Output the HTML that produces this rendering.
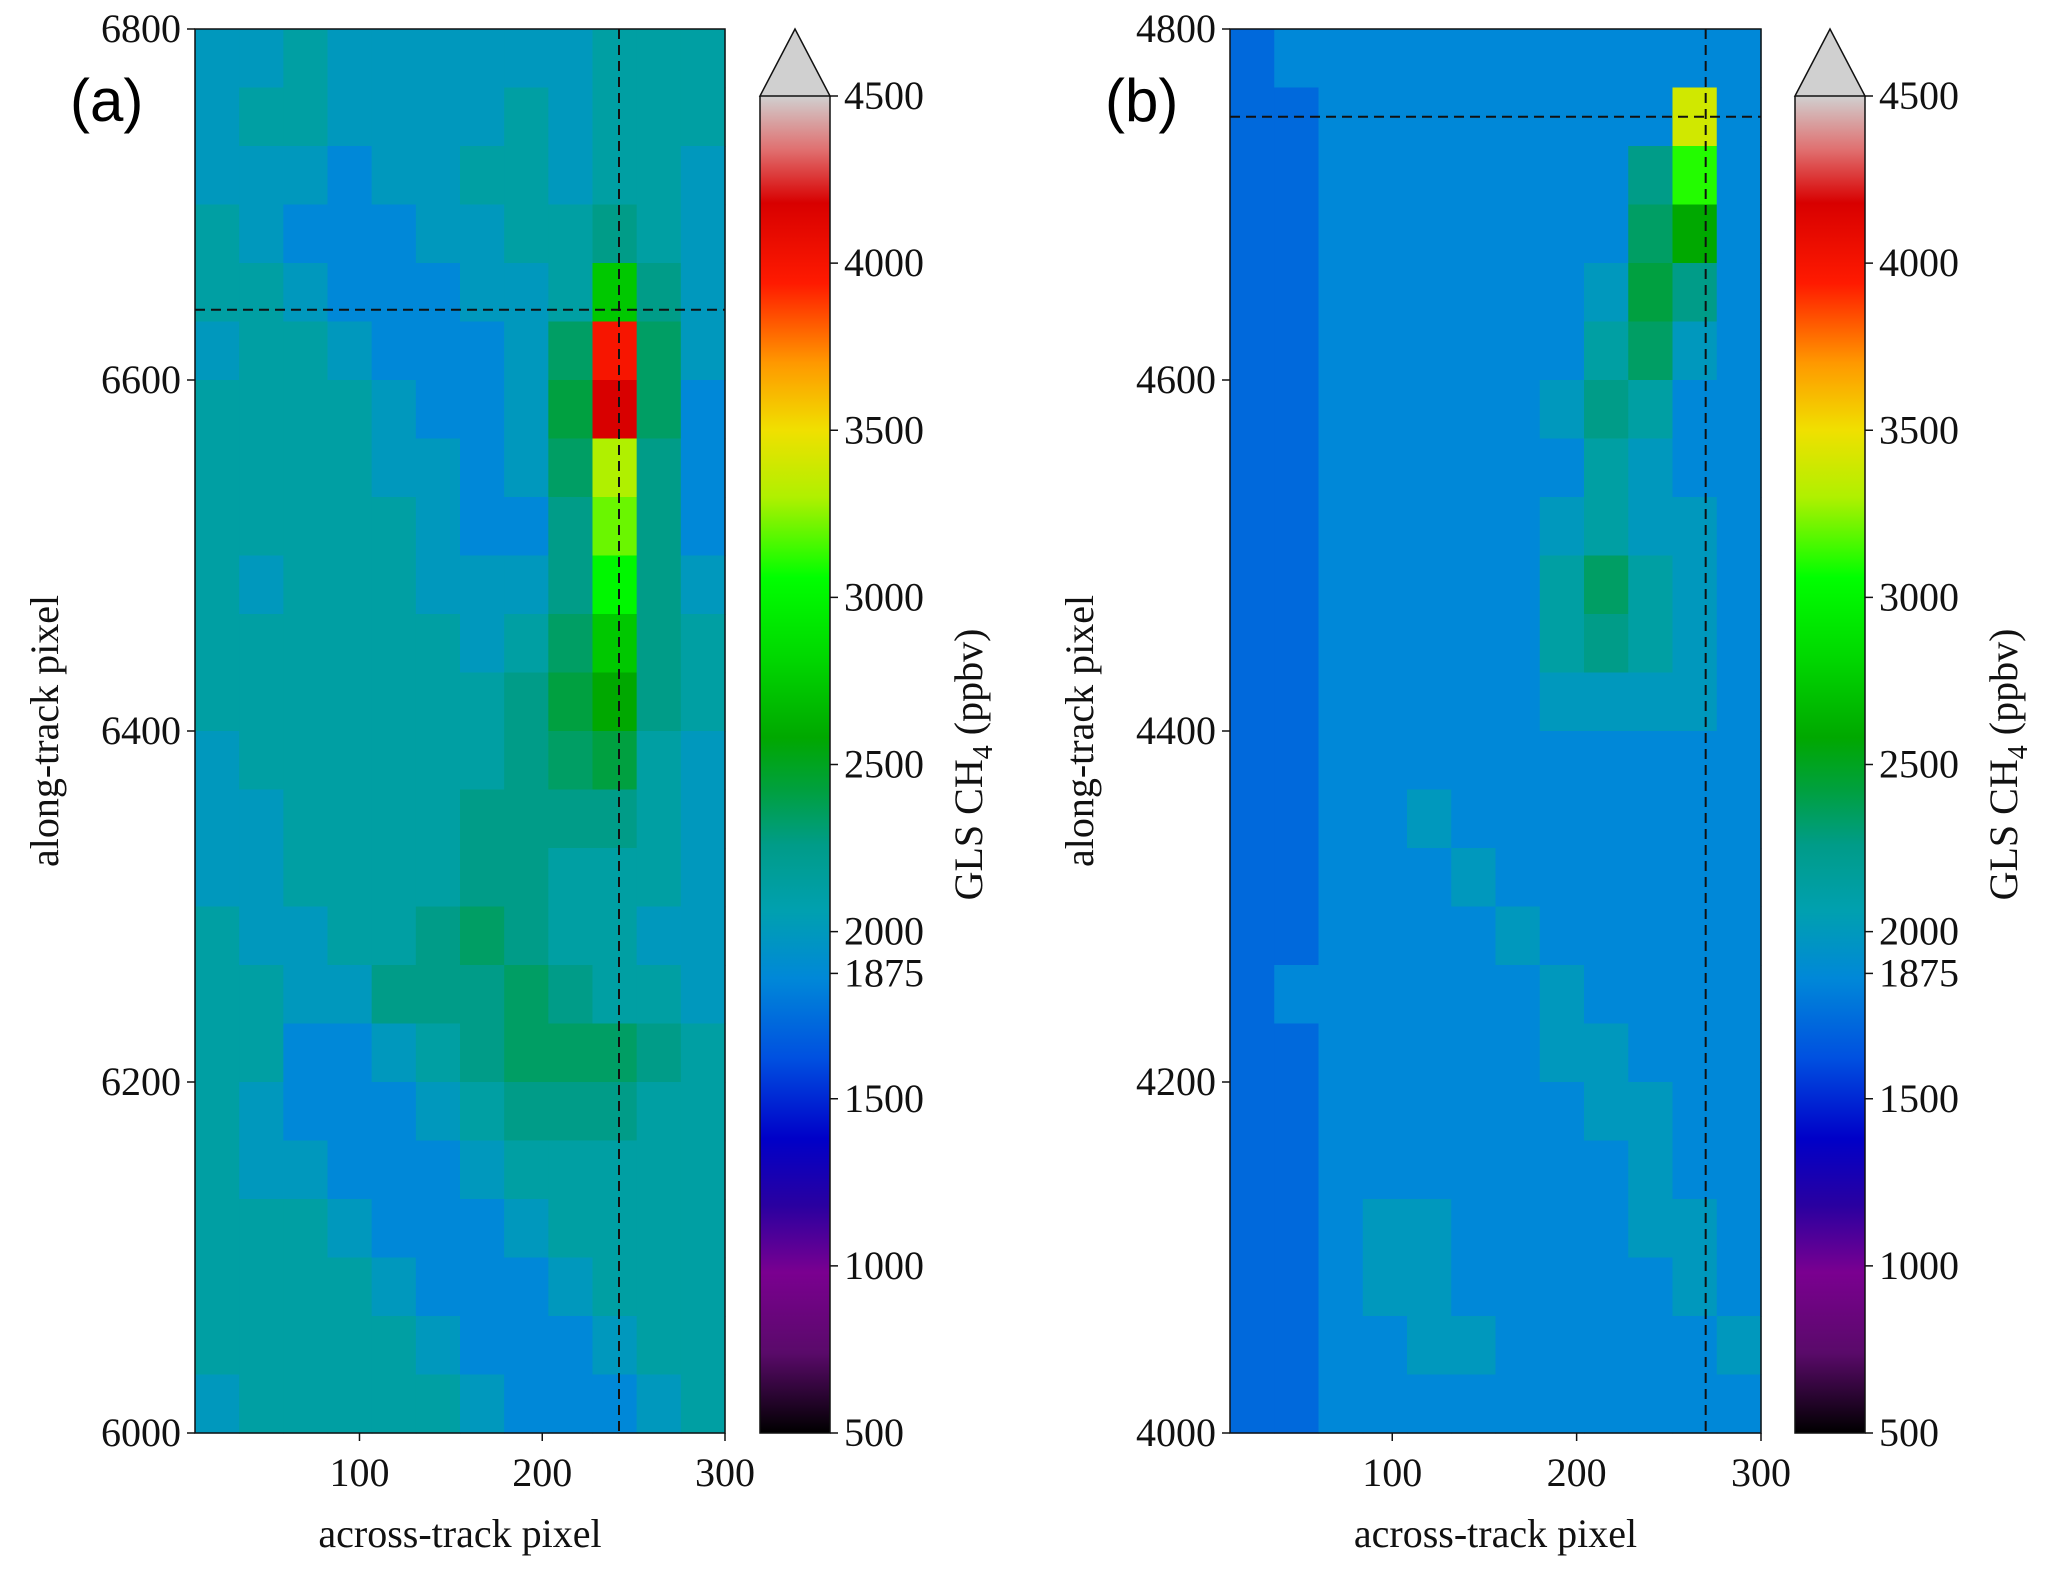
<!DOCTYPE html>
<html><head><meta charset="utf-8">
<style>
body{margin:0;background:#fff;}
svg{display:block;font-family:"Liberation Serif",serif;}
.t{font-size:40px;fill:#111;}
</style></head>
<body>
<svg id="fig" width="2067" height="1573" viewBox="0 0 2067 1573">
<defs>
<linearGradient id="cmap" x1="0" y1="1" x2="0" y2="0">
<stop offset="0" stop-color="#000000"/>
<stop offset="0.06" stop-color="#5a0a6a"/>
<stop offset="0.12" stop-color="#7a0090"/>
<stop offset="0.17" stop-color="#2a00a0"/>
<stop offset="0.22" stop-color="#0000c8"/>
<stop offset="0.28" stop-color="#0050e0"/>
<stop offset="0.34" stop-color="#0088d8"/>
<stop offset="0.39" stop-color="#00a0b0"/>
<stop offset="0.44" stop-color="#009c88"/>
<stop offset="0.48" stop-color="#00a040"/>
<stop offset="0.52" stop-color="#00a800"/>
<stop offset="0.58" stop-color="#00d800"/>
<stop offset="0.64" stop-color="#00ff00"/>
<stop offset="0.70" stop-color="#b0f000"/>
<stop offset="0.75" stop-color="#f0e000"/>
<stop offset="0.80" stop-color="#ff9900"/>
<stop offset="0.86" stop-color="#ff1a00"/>
<stop offset="0.92" stop-color="#d80000"/>
<stop offset="0.96" stop-color="#e07070"/>
<stop offset="1" stop-color="#d0d0d0"/>
</linearGradient>
</defs>
</svg>
<script>
// panel (a) grid values in hundreds of ppbv, rows top (6800) to bottom (6000), 12 columns across x 10..300
const gridA = [
[19,19,20,19,19,19,19,19,19,20,20,20],
[19,20,20,19,19,19,19,20,19,20,20,20],
[19,19,19,18,19,19,20,20,19,20,20,19],
[20,19,18,18,18,19,19,20,20,21,20,19],
[20,20,19,18,18,18,19,19,20,27,21,19],
[19,20,20,19,18,18,18,19,22,40,22,19],
[20,20,20,20,19,18,18,19,23,42,22,18],
[20,20,20,20,19,19,18,19,22,33,21,18],
[20,20,20,20,20,19,18,18,21,32,21,18],
[20,19,20,20,20,19,19,19,21,30,21,19],
[20,20,20,20,20,20,19,20,22,27,21,20],
[20,20,20,20,20,20,20,21,23,25,21,20],
[19,20,20,20,20,20,20,21,22,23,20,19],
[19,19,20,20,20,20,21,21,21,21,20,19],
[19,19,20,20,20,20,21,21,20,20,20,19],
[20,19,19,20,20,21,22,21,20,20,19,19],
[20,20,19,19,21,21,21,22,21,20,20,19],
[20,20,18,18,19,20,21,22,22,22,21,20],
[20,19,18,18,18,19,20,21,21,21,20,20],
[20,19,19,18,18,18,19,20,20,20,20,20],
[20,20,20,19,18,18,18,19,20,20,20,20],
[20,20,20,20,19,18,18,18,19,20,20,20],
[20,20,20,20,20,19,18,18,18,19,20,20],
[19,20,20,20,20,20,19,18,18,18,19,20]
];
// panel (b) grid values in hundreds of ppbv, rows top (4800) to bottom (4000), 12 columns across x 12..300
const gridB = [
[17,18,18,18,18,18,18,18,18,18,18,18],
[17,17,18,18,18,18,18,18,18,18,34,18],
[17,17,18,18,18,18,18,18,18,21,31,18],
[17,17,18,18,18,18,18,18,18,22,25,18],
[17,17,18,18,18,18,18,18,19,23,21,18],
[17,17,18,18,18,18,18,18,20,22,19,18],
[17,17,18,18,18,18,18,19,21,20,18,18],
[17,17,18,18,18,18,18,18,20,19,18,18],
[17,17,18,18,18,18,18,19,20,19,19,18],
[17,17,18,18,18,18,18,20,22,20,19,18],
[17,17,18,18,18,18,18,20,21,20,19,18],
[17,17,18,18,18,18,18,19,19,19,19,18],
[17,17,18,18,18,18,18,18,18,18,18,18],
[17,17,18,18,19,18,18,18,18,18,18,18],
[17,17,18,18,18,19,18,18,18,18,18,18],
[17,17,18,18,18,18,19,18,18,18,18,18],
[17,18,18,18,18,18,18,19,18,18,18,18],
[17,17,18,18,18,18,18,19,19,18,18,18],
[17,17,18,18,18,18,18,18,19,19,18,18],
[17,17,18,18,18,18,18,18,18,19,18,18],
[17,17,18,19,19,18,18,18,18,19,19,18],
[17,17,18,19,19,18,18,18,18,18,19,18],
[17,17,18,18,19,19,18,18,18,18,18,19],
[17,17,18,18,18,18,18,18,18,18,18,18]
];
const xTicks = [100, 200, 300];
const yTicksA = [6000, 6200, 6400, 6600, 6800];
const yTicksB = [4000, 4200, 4400, 4600, 4800];
const cbTicks = [500, 1000, 1500, 1875, 2000, 2500, 3000, 3500, 4000, 4500];
const dashA = [242, 6640];
const dashB = [270, 4750];

const NS = "http://www.w3.org/2000/svg";
const svg = document.getElementById('fig');
const cstops = [[500,[0,0,0]],[750,[90,10,106]],[1000,[122,0,144]],[1200,[42,0,160]],[1380,[0,0,200]],[1620,[0,80,224]],[1800,[0,136,216]],[1950,[0,160,176]],[2100,[0,156,136]],[2300,[0,160,64]],[2500,[0,168,0]],[2800,[0,216,0]],[3050,[0,255,0]],[3300,[176,240,0]],[3500,[240,224,0]],[3700,[255,153,0]],[3950,[255,26,0]],[4200,[216,0,0]],[4500,[208,208,208]]];
function cmap(v){
  if(v<=cstops[0][0]) return 'rgb(0,0,0)';
  for(let i=1;i<cstops.length;i++){
    if(v<=cstops[i][0]){
      const a=cstops[i-1],b=cstops[i],t=(v-a[0])/(b[0]-a[0]);
      const c=a[1].map((x,k)=>Math.round(x+(b[1][k]-x)*t));
      return `rgb(${c[0]},${c[1]},${c[2]})`;
    }
  }
  return 'rgb(208,208,208)';
}
function el(tag, attrs, parent){
  const e=document.createElementNS(NS,tag);
  for(const k in attrs) e.setAttribute(k,attrs[k]);
  (parent||svg).appendChild(e); return e;
}

function panel(P){
  const g=el('g',{});
  
  
  const sx=v=>P.x0+(v-P.xmin)/(P.xmax-P.xmin)*(P.x1-P.x0);
  const sy=v=>P.y1-(v-P.ymin)/(P.ymax-P.ymin)*(P.y1-P.y0);
  const rows=P.grid.length, cols=P.grid[0].length;
  const dx=(P.xmax-P.xmin)/cols, dy=(P.ymax-P.ymin)/rows;
  P.grid.forEach((row,r)=>row.forEach((v,c)=>{
    const xa=sx(P.xmin+c*dx), xb=sx(P.xmin+(c+1)*dx);
    const ya=sy(P.ymax-r*dy), yb=sy(P.ymax-(r+1)*dy);
    const rc=el('rect',{x:xa,y:ya,width:xb-xa+0.6,height:yb-ya+0.6,fill:cmap(v*100)},g);
    
    
  }));
  const vl=el('line',{x1:sx(P.dash[0]),x2:sx(P.dash[0]),y1:P.y0,y2:P.y1,stroke:'#111','stroke-width':2,'stroke-dasharray':'10,6'},g);
  
  
  const hl=el('line',{x1:P.x0,x2:P.x1,y1:sy(P.dash[1]),y2:sy(P.dash[1]),stroke:'#111','stroke-width':2,'stroke-dasharray':'10,6'},g);
  
  
  const fr=el('rect',{x:P.x0,y:P.y0,width:P.x1-P.x0,height:P.y1-P.y0,fill:'none',stroke:'#111','stroke-width':1.5},g);
  
  
  xTicks.forEach(t=>{
    el('line',{x1:sx(t),x2:sx(t),y1:P.y1,y2:P.y1+8,stroke:'#111','stroke-width':1.5},g);
    const tx=el('text',{x:sx(t),y:1486,'text-anchor':'middle',class:'t'},g);
    tx.textContent=t;
    
    
  });
  P.yt.forEach(t=>{
    el('line',{x1:P.x0-8,x2:P.x0,y1:sy(t),y2:sy(t),stroke:'#111','stroke-width':1.5},g);
    const tx=el('text',{x:P.x0-14,y:sy(t)+13,'text-anchor':'end',class:'t'},g);
    tx.textContent=t;
    
    
  });
  const xl=el('text',{x:(P.x0+P.x1)/2,y:1547,'text-anchor':'middle',class:'t'},g);
  xl.textContent='across-track pixel';
  
  
  const yl=el('text',{x:0,y:0,'text-anchor':'middle',class:'t',transform:`translate(${P.ylx},${(P.y0+P.y1)/2}) rotate(-90)`},g);
  yl.textContent='along-track pixel';
  
  
  const lab=el('text',{x:P.labx,y:121,'font-size':60,'font-family':'Liberation Sans, sans-serif',fill:'#000'},g);
  lab.textContent=P.label;
  
  
  const cb=el('g',{},g);
  
  
  const cy=v=>1433-(v-500)/4000*(1433-96);
  el('rect',{x:P.cx,y:96,width:70,height:1433-96,fill:'url(#cmap)'},cb);
  el('path',{d:`M${P.cx},96 L${P.cx+35},29 L${P.cx+70},96 Z`,fill:'#d0d0d0',stroke:'#111','stroke-width':1.5},cb);
  el('path',{d:`M${P.cx},96 L${P.cx},1433 L${P.cx+70},1433 L${P.cx+70},96`,fill:'none',stroke:'#111','stroke-width':1.5},cb);
  cbTicks.forEach(t=>{
    el('line',{x1:P.cx+70,x2:P.cx+78,y1:cy(t),y2:cy(t),stroke:'#111','stroke-width':1.5},cb);
    const tx=el('text',{x:P.cx+84,y:cy(t)+13,class:'t'},cb);
    tx.textContent=t;
    
    
  });
  const cl=el('text',{x:0,y:0,'text-anchor':'middle',class:'t',transform:`translate(${P.cx+222},${(96+1433)/2}) rotate(-90)`},cb);
  cl.innerHTML='GLS CH<tspan font-size="28" dy="10">4</tspan><tspan dy="-10"> (ppbv)</tspan>';
  
  
}
panel({name:'panel-a',grid:gridA,x0:195,x1:725,y0:29,y1:1433,xmin:10,xmax:300,ymin:6000,ymax:6800,yt:yTicksA,dash:dashA,cx:760,ylx:58,labx:70,label:'(a)'});
panel({name:'panel-b',grid:gridB,x0:1230,x1:1761,y0:29,y1:1433,xmin:12,xmax:300,ymin:4000,ymax:4800,yt:yTicksB,dash:dashB,cx:1795,ylx:1093,labx:1105,label:'(b)'});
</script>
</body></html>
